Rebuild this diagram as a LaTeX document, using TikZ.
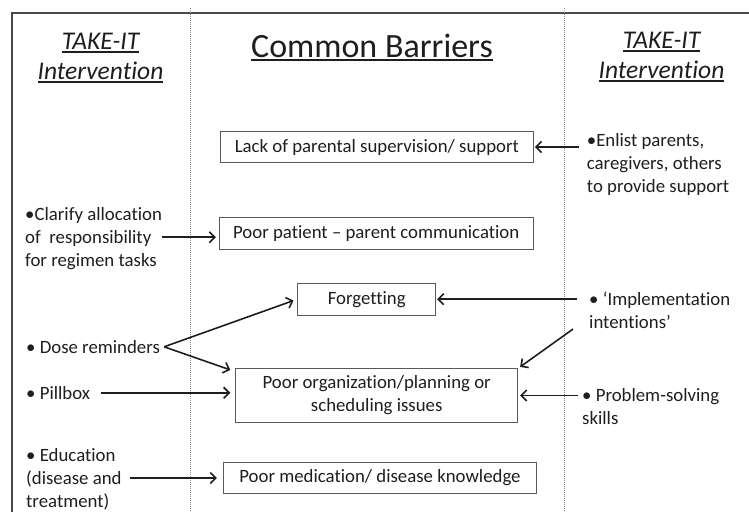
\documentclass[tikz,border=0pt]{standalone}
\usepackage{fontspec}
\setmainfont{Carlito}[Ligatures=CommonOff]
\usetikzlibrary{arrows.meta}

% underline drawn as a rule below the baseline
\newcommand{\ulbar}[3]{\setbox0\hbox{#3}\rlap{\rule[-#1]{\wd0}{#2}}\box0}

\definecolor{ink}{HTML}{1E1E1E}
\definecolor{framecol}{HTML}{4A4A4A}
\definecolor{boxcol}{HTML}{5A5A5A}
\definecolor{sepcol}{HTML}{8A8A8A}

\tikzset{
  body/.style={font=\fontsize{18.8}{23}\selectfont, text=ink, inner sep=0pt},
  barrier/.style={body, draw=boxcol, line width=0.8pt, align=center},
  lefttext/.style={body, align=left, anchor=north west},
  righttext/.style={body, align=left, anchor=north west},
  header/.style={font=\fontsize{25.5}{30}\selectfont\itshape, text=ink, inner sep=0pt, align=center, anchor=north},
  arr/.style={draw=ink, line width=1.6pt, -{Straight Barb[length=5.5pt,width=11pt]}},
  sep/.style={draw=sepcol, line width=0.6pt, dash pattern=on 1pt off 1pt},
  frame/.style={draw=framecol, line width=1.3pt}
}

\begin{document}
\begin{tikzpicture}[x=1pt,y=-1pt]
  \useasboundingbox (0,0) rectangle (749,512);

  % frame and column separators
  \draw[frame] (749,13) -- (12,13) -- (12,512);
  \draw[sep] (190.5,8) -- (190.5,512);
  \draw[sep] (564,8) -- (564,512);

  % column headings
  \node[header] (hl) at (100.5,33) {\ulbar{3pt}{1.5pt}{TAKE-IT}\\\ulbar{3pt}{1.5pt}{Intervention}};
  \node[header] (hr) at (661.5,32) {\ulbar{3pt}{1.5pt}{TAKE-IT}\\\ulbar{3pt}{1.5pt}{Intervention}};
  \node[font=\fontsize{34}{40}\selectfont, text=ink, inner sep=0pt, anchor=base] (title) at (372,57)
    {\ulbar{4pt}{1.8pt}{Common Barriers}};

  % barriers
  \node[barrier, minimum width=312.3pt, minimum height=30.6pt] (sup) at (376.9,147) {Lack of parental supervision/ support};
  \node[barrier, minimum width=313.7pt, minimum height=31.7pt] (comm) at (376.2,233.2) {Poor patient -- parent communication};
  \node[barrier, minimum width=138pt, minimum height=31.7pt] (forg) at (366.7,299.2) {Forgetting};
  \node[barrier, minimum width=282pt, minimum height=54.4pt] (org) at (376.7,395.5) {Poor organization/planning or\\scheduling issues};
  \node[barrier, minimum width=313.4pt, minimum height=30.6pt] (know) at (380,478) {Poor medication/ disease knowledge};

  % interventions, left column
  \node[lefttext] (clar) at (25,207) {•Clarify allocation\\of~ responsibility\\for regimen tasks};
  \node[lefttext] (dose) at (26,340) {• Dose reminders};
  \node[lefttext] (pill) at (26,386) {• Pillbox};
  \node[lefttext] (edu) at (26,448) {• Education\\(disease and\\treatment)};

  % interventions, right column
  \node[righttext] (enl) at (586.7,133) {•Enlist parents,\\caregivers, others\\to provide support};
  \node[righttext] (impl) at (589,292) {• ‘Implementation\\intentions’};
  \node[righttext] (prob) at (582,388) {• Problem-solving\\skills};

  % connectors
  \draw[arr, shorten >=1.5pt] ([xshift=-8pt]enl.west |- sup.east) -- (sup.east);
  \draw[arr, shorten >=3pt] ([yshift=-4pt]clar.east |- comm.west) -- ([yshift=-4pt]comm.west);
  \draw[arr, shorten >=4pt] ([xshift=4pt]dose.east) -- (forg.west);
  \draw[arr] ([xshift=4pt]dose.east) -- ([shift={(-5pt,-2pt)}]org.north west);
  \draw[arr, shorten >=5pt] ([xshift=11pt]pill.east) -- (pill.east -| org.west);
  \draw[arr, shorten >=6pt] ([xshift=8pt]edu.east |- know.west) -- (know.west);
  \draw[arr, shorten >=1pt] ([xshift=-12pt]impl.west |- forg.east) -- (forg.east);
  \draw[arr] ([xshift=-16pt]impl.south west) -- ([shift={(2pt,1pt)}]org.north east);
  \draw[arr, shorten >=2pt] ([xshift=-4pt]prob.west |- org.east) -- (org.east);
\end{tikzpicture}
\end{document}
